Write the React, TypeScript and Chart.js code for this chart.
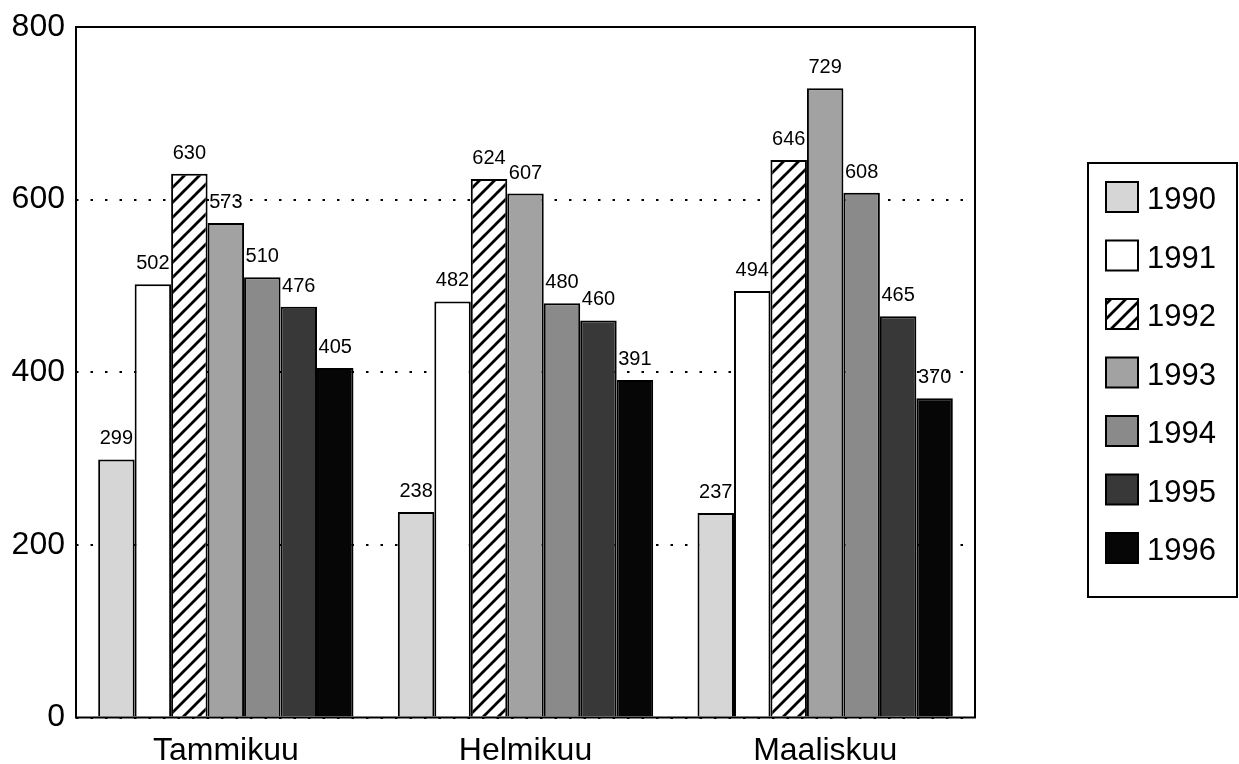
import React, { useEffect, useRef } from "react";
import { Chart, registerables } from "chart.js";

Chart.register(...registerables);

const categories = ["Tammikuu", "Helmikuu", "Maaliskuu"];
const years = ["1990", "1991", "1992", "1993", "1994", "1995", "1996"];
const v1990 = [299, 238, 237];
const v1991 = [502, 482, 494];
const v1992 = [630, 624, 646];
const v1993 = [573, 607, 729];
const v1994 = [510, 480, 608];
const v1995 = [476, 460, 465];
const v1996 = [405, 391, 370];
const yTicks = [0, 200, 400, 600, 800];

const FONT = "'Liberation Sans', Arial, Helvetica, sans-serif";

function makeHatch(): CanvasPattern | string {
  const c = document.createElement("canvas");
  const s = 15;
  c.width = s;
  c.height = s;
  const g = c.getContext("2d");
  if (!g) return "#fff";
  g.fillStyle = "#ffffff";
  g.fillRect(0, 0, s, s);
  g.strokeStyle = "#000";
  g.lineWidth = 2.8;
  g.beginPath();
  g.moveTo(-s, s * 2);
  g.lineTo(s * 2, -s);
  g.moveTo(-s, s);
  g.lineTo(s, -s);
  g.moveTo(0, s * 2);
  g.lineTo(s * 2, 0);
  g.stroke();
  const p = g.createPattern(c, "repeat");
  return p || "#fff";
}

export default function App() {
  const ref = useRef<HTMLCanvasElement>(null);
  useEffect(() => {
    document.body.style.margin = "0";
    const canvas = ref.current;
    if (!canvas) return;
    const hatch = makeHatch();
    const fills: any[] = ["#d6d6d6", "#ffffff", hatch, "#a2a2a2", "#8a8a8a", "#383838", "#060606"];
    const series = [v1990, v1991, v1992, v1993, v1994, v1995, v1996];

    const frame = {
      id: "frame",
      afterDatasetsDraw(chart: any) {
        const { ctx, chartArea } = chart;
        ctx.save();
        ctx.strokeStyle = "#000";
        ctx.lineWidth = 2;
        ctx.strokeRect(chartArea.left, chartArea.top, chartArea.right - chartArea.left, chartArea.bottom - chartArea.top);
        ctx.fillStyle = "#000";
        ctx.font = `20px ${FONT}`;
        ctx.textAlign = "center";
        ctx.textBaseline = "alphabetic";
        chart.data.datasets.forEach((ds: any, di: number) => {
          const meta = chart.getDatasetMeta(di);
          meta.data.forEach((el: any, i: number) => {
            ctx.fillText(String(ds.data[i]), el.x, el.y - 15);
          });
        });
        ctx.restore();
      },
      afterDraw(chart: any) {
        const { ctx } = chart;
        ctx.save();
        ctx.strokeStyle = "#000";
        ctx.lineWidth = 2;
        ctx.strokeRect(1088, 163, 149, 434);
        ctx.font = `31px ${FONT}`;
        ctx.textAlign = "left";
        ctx.textBaseline = "alphabetic";
        chart.data.datasets.forEach((ds: any, i: number) => {
          const cy = 197 + i * 58.5;
          ctx.fillStyle = ds.backgroundColor;
          ctx.fillRect(1106, cy - 15, 32, 30);
          ctx.lineWidth = 2;
          ctx.strokeStyle = "#000";
          ctx.strokeRect(1106, cy - 15, 32, 30);
          ctx.fillStyle = "#000";
          ctx.fillText(ds.label, 1147, cy + 12);
        });
        ctx.restore();
      },
    };

    const chart = new Chart(canvas, {
      type: "bar",
      data: {
        labels: categories,
        datasets: years.map((y, i) => ({
          label: y,
          data: series[i],
          backgroundColor: fills[i],
          borderColor: "#000",
          borderWidth: 2,
          categoryPercentage: 0.852,
          barPercentage: 1.0,
        })),
      },
      options: {
        responsive: false,
        animation: false,
        devicePixelRatio: 1,
        layout: { padding: { top: 27, right: 264, bottom: 0, left: 0 } },
        plugins: { legend: { display: false }, tooltip: { enabled: false } },
        scales: {
          x: {
            grid: { display: false },
            border: { display: false },
            ticks: { color: "#000", font: { family: FONT, size: 32 }, padding: 6 },
            afterFit: (s: any) => {
              s.height = 46.5;
              s.paddingLeft = 0;
              s.paddingRight = 0;
            },
          },
          y: {
            min: 0,
            max: 800,
            afterBuildTicks: (s: any) => {
              s.ticks = yTicks.map((v) => ({ value: v }));
            },
            grid: { color: "#000", lineWidth: 2, drawTicks: false },
            border: { display: false, dash: [2.5, 12] },
            ticks: { color: "#000", font: { family: FONT, size: 32 }, padding: 11 },
            afterFit: (s: any) => {
              s.width = 76;
              s.paddingTop = 0;
              s.paddingBottom = 0;
            },
          },
        },
      },
      plugins: [frame],
    });
    return () => chart.destroy();
  }, []);
  return (
    <div style={{ position: "absolute", left: 0, top: 0, width: 1239, height: 764, background: "#fff" }}>
      <canvas ref={ref} width={1239} height={764} />
    </div>
  );
}
